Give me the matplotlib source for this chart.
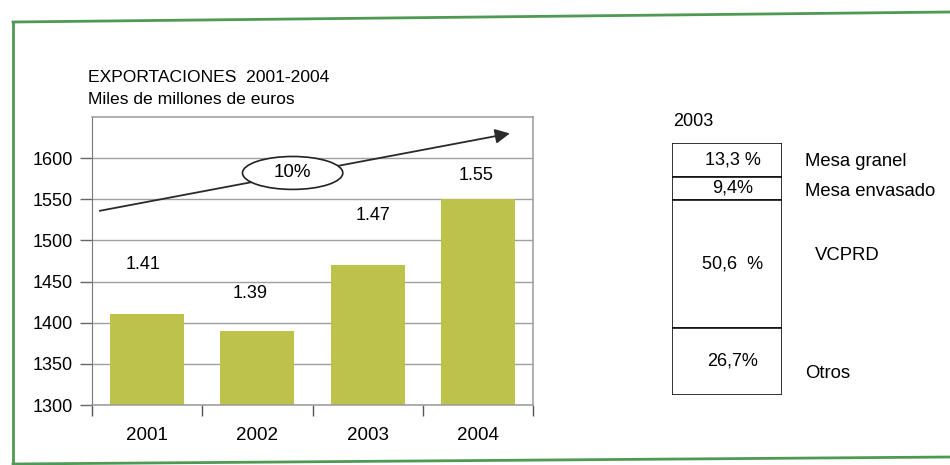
import numpy as np
import matplotlib.pyplot as plt
from matplotlib.patches import Ellipse
from matplotlib.lines import Line2D

plt.rcParams['font.family'] = ['Liberation Sans', 'DejaVu Sans']

# Exports by year (millions of euros) and the labels printed above the bars
years = ["2001", "2002", "2003", "2004"]
exports = [1410, 1390, 1470, 1550]
export_labels = ["1.41", "1.39", "1.47", "1.55"]
y_ticks = [1300, 1350, 1400, 1450, 1500, 1550, 1600]

# 2003 breakdown by product type (percent)
segments = ["Mesa granel", "Mesa envasado", "VCPRD", "Otros"]
shares = [13.3, 9.4, 50.6, 26.7]
share_labels = ["13,3 %", "9,4%", "50,6  %", "26,7%"]

W, H = 950, 465
fig = plt.figure(figsize=(W / 100, H / 100), dpi=100)


def px(x, y):
    # pixel position (from top-left) -> figure fraction
    return x / W, 1 - y / H


# green frame around the panel
frame_col = "#4f9a52"
for xs, ys in [((13, 950), (22, 12)), ((13, 13), (22, 465)), ((13, 950), (464, 457))]:
    fig.add_artist(Line2D([x / W for x in xs], [1 - y / H for y in ys],
                          color=frame_col, lw=2, transform=fig.transFigure))

# ---- bar chart ----
ax = fig.add_axes([92 / W, 1 - 405 / H, 441 / W, 288 / H])
x = np.arange(len(years))
ax.bar(x, exports, width=0.67, color="#bcc24a", zorder=2)
ax.set_xlim(-0.5, len(years) - 0.5)
ax.set_ylim(1300, 1650)
ax.set_yticks(y_ticks)
ax.tick_params(axis="y", length=9, width=1, color="#666666", labelsize=13, pad=5)
ax.yaxis.grid(True, color="#a0a0a0", lw=1.0, zorder=0)

ax.set_xticks(x)
ax.set_xticklabels(years)
ax.set_xticks(np.arange(-0.5, len(years)), minor=True)
ax.tick_params(axis="x", which="major", length=0, labelsize=13.5, pad=16)
ax.tick_params(axis="x", which="minor", length=8, width=1, color="#555555")

for side in ["top", "right", "bottom"]:
    ax.spines[side].set_color("#9a9a9a")
    ax.spines[side].set_linewidth(1.1)
ax.spines["left"].set_color("#777777")

# value labels above the bars (offset in points)
label_offsets = [(-3, 36), (-5, 27), (4, 36), (-1, 17)]
for xi, v, lab, (dx, dy) in zip(x, exports, export_labels, label_offsets):
    ax.annotate(lab, (xi, v), xytext=(dx, dy), textcoords="offset points",
                ha="center", va="center", fontsize=13)

# growth arrow with the 10% ellipse
ax.annotate("", xy=(3.29, 1630), xytext=(-0.43, 1536),
            arrowprops=dict(arrowstyle="-|>", color="#2a2a2a", lw=1.3,
                            mutation_scale=22, shrinkA=0, shrinkB=0),
            annotation_clip=False, zorder=3)
ax.add_patch(Ellipse((1.32, 1582), 0.91, 40, facecolor="white",
                     edgecolor="#222222", lw=1.2, zorder=4))
ax.text(1.32, 1583, "10%", ha="center", va="center", fontsize=13.5, zorder=5)

fig.text(*px(88, 77), "EXPORTACIONES  2001-2004", fontsize=12.6, va="center")
fig.text(*px(88, 100), "Miles de millones de euros", fontsize=12.6, va="center")

# ---- 2003 composition box ----
ax2 = fig.add_axes([672 / W, 1 - 395 / H, 110 / W, 252 / H])
bottoms = np.concatenate([[0], np.cumsum(shares)[:-1]])
ax2.bar(0, shares, bottom=bottoms, width=1, color="white",
        edgecolor="#111111", lw=1.2)
ax2.set_xlim(-0.5, 0.5)
ax2.set_ylim(100, 0)
ax2.axis("off")
for b, s, lab in zip(bottoms, shares, share_labels):
    ax2.text(0.05, b + s / 2, lab, ha="center", va="center", fontsize=13)

fig.text(*px(673, 121), "2003", fontsize=13, va="center")
name_pos = [(805, 162), (805, 192), (815, 256), (805, 373)]
for name, (nx, ny) in zip(segments, name_pos):
    fig.text(*px(nx, ny), name, fontsize=13.3, va="center")

fig.savefig("out.png", dpi=100, facecolor="white")
